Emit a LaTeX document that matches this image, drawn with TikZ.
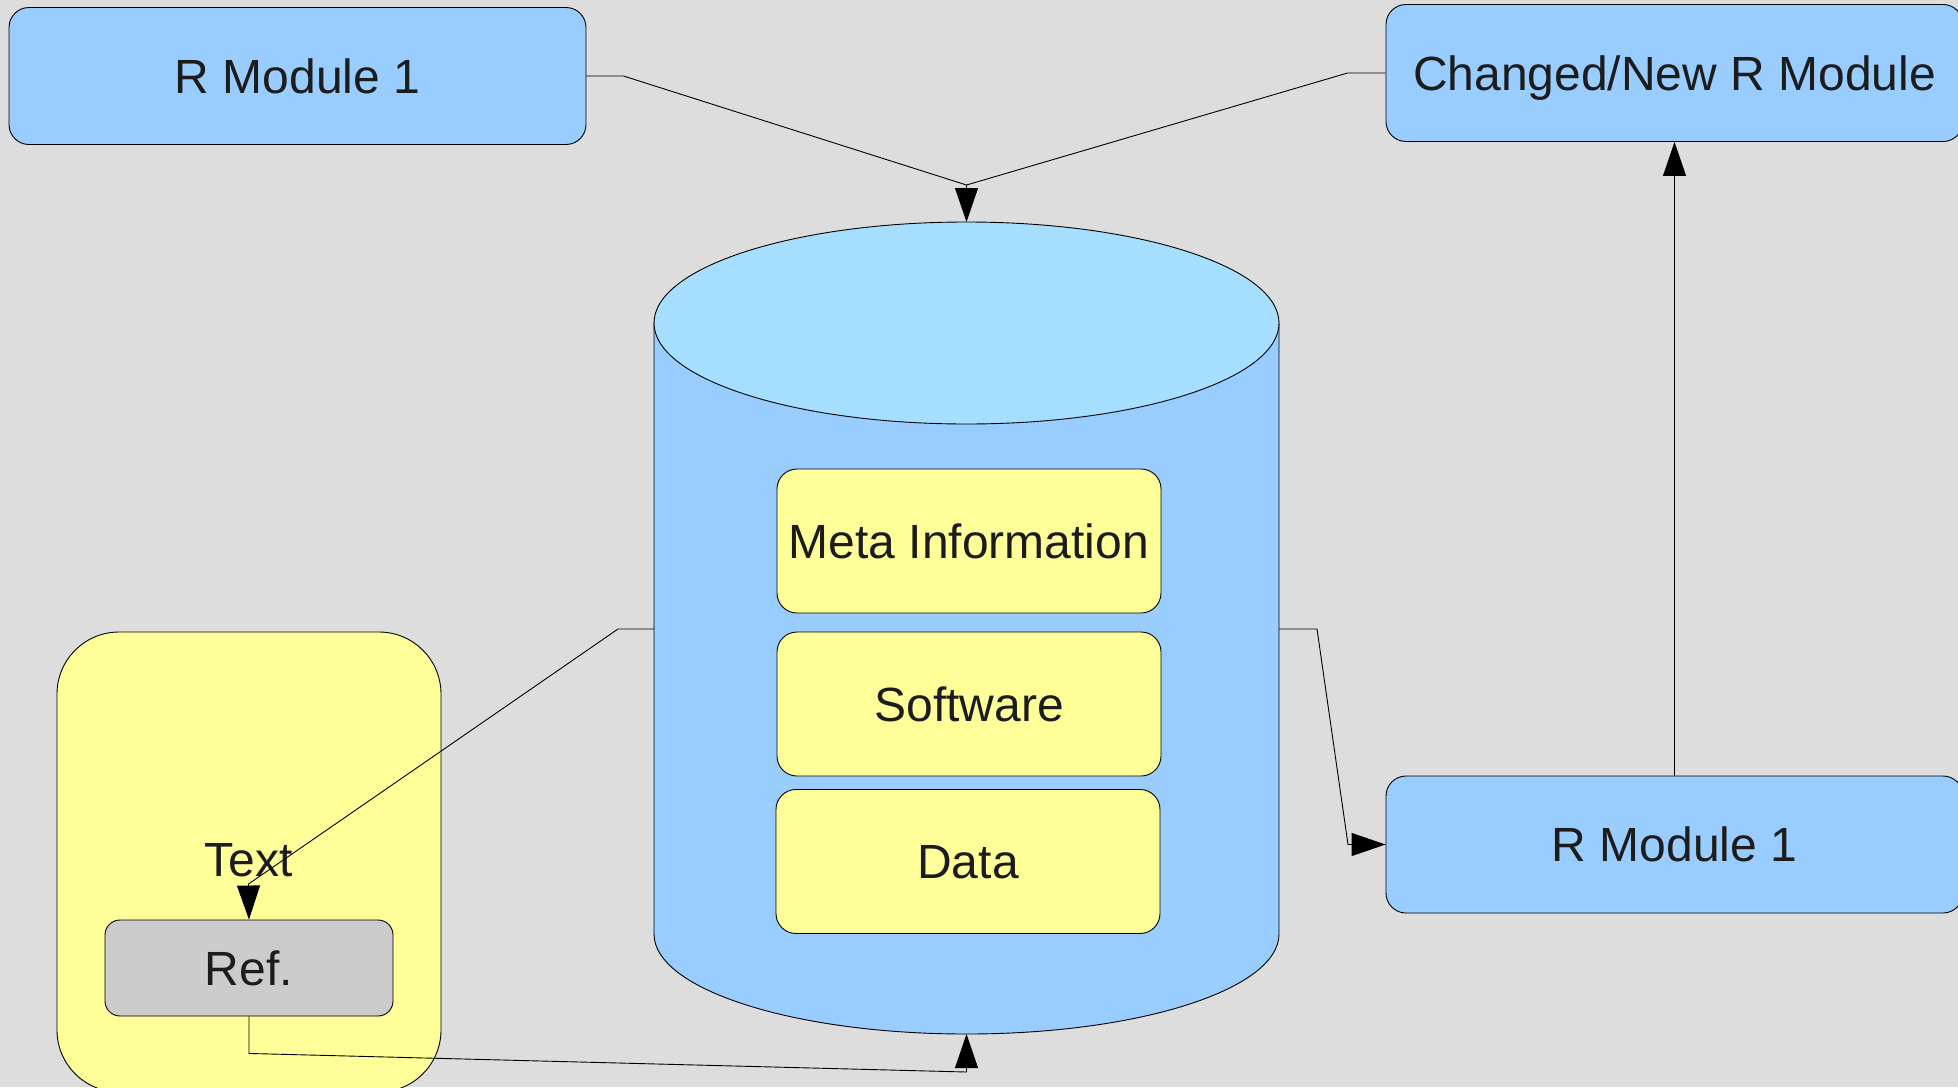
\documentclass[tikz,border=0pt]{standalone}
\usepackage{fontspec}
\setmainfont{Liberation Sans}
\usetikzlibrary{arrows.meta}
\definecolor{bgc}{HTML}{DDDDDD}
\definecolor{modblue}{HTML}{99CCFF}
\definecolor{toplight}{HTML}{A6DEFF}
\definecolor{pale}{HTML}{FFFF99}
\definecolor{refgray}{HTML}{CCCCCC}
\definecolor{ink}{HTML}{1C1C1C}
\tikzset{
  box/.style={draw=black, line width=0.9pt, rounded corners=20pt, inner sep=0pt,
    text=ink, font=\fontsize{48}{58}\selectfont, align=center,
    text height=34pt, text depth=0pt},
  module/.style={box, fill=modblue, minimum width=577pt, minimum height=137pt},
  part/.style={box, fill=pale, minimum width=384pt, minimum height=144pt},
  conn/.style={draw=black, line width=0.9pt},
  tip/.style={conn, -{Triangle[length=34pt, width=23pt]}},
  lbl/.style={text=ink, font=\fontsize{48}{58}\selectfont, inner sep=0pt}
}
\begin{document}
\begin{tikzpicture}[x=1pt, y=-1pt]
  % canvas
  \fill[bgc] (0,0) rectangle (1958,1087);
  \useasboundingbox (0,0) rectangle (1958,1087);

  % modules
  \node[module] (rm1) at (297.5,76) {R Module 1};
  \node[module] (chg) at (1674.5,73) {Changed/New R Module};
  \node[module] (rm2) at (1674.5,844.5) {R Module 1};

  % repository cylinder
  \filldraw[fill=modblue, draw=black, line width=0.9pt]
    (654,323) -- (654,934)
    arc[start angle=180, end angle=360, x radius=312.5pt, y radius=100pt]
    -- (1279,323) -- cycle;
  \filldraw[fill=toplight, draw=black, line width=0.9pt]
    (966.5,323) ellipse [x radius=312.5pt, y radius=101pt];
  \coordinate (cyltop) at (966.5,222);
  \coordinate (cylbot) at (966.5,1034);
  \coordinate (cylwest) at (654,629);
  \coordinate (cyleast) at (1279,629);

  % repository contents
  \node[part] (meta) at (969,541) {Meta Information};
  \node[part] (soft) at (969,704) {Software};
  \node[part] (data) at (968,861.5) {Data};

  % document with reference
  \node[draw=black, line width=0.9pt, fill=pale, rounded corners=62pt,
        minimum width=384pt, minimum height=460pt, inner sep=0pt] (doc) at (249,862) {};
  \node[lbl] (txt) at (248.5,860) {Text};
  \node[box, fill=refgray, rounded corners=15pt, minimum width=288pt,
        minimum height=96pt] (ref) at (249,968) {Ref.};

  % connectors
  \coordinate (merge) at (966.5,185);
  \draw[conn] (rm1.east) -- ++(37,0) -- (merge);
  \draw[conn] (chg.west) -- ++(-38,0) -- (merge);
  \draw[tip] (merge) -- (cyltop);

  \draw[tip] (cylwest) -- ++(-36,0) -- (248.5,884) -- (ref.north);
  \draw[tip] (ref.south) -- ++(0,37) -- (966.5,1072) -- (cylbot);
  \draw[tip] (cyleast) -- ++(38,0) -- (1348,844.5) -- (rm2.west);
  \draw[tip] (rm2.north) -- (chg.south);
\end{tikzpicture}
\end{document}
